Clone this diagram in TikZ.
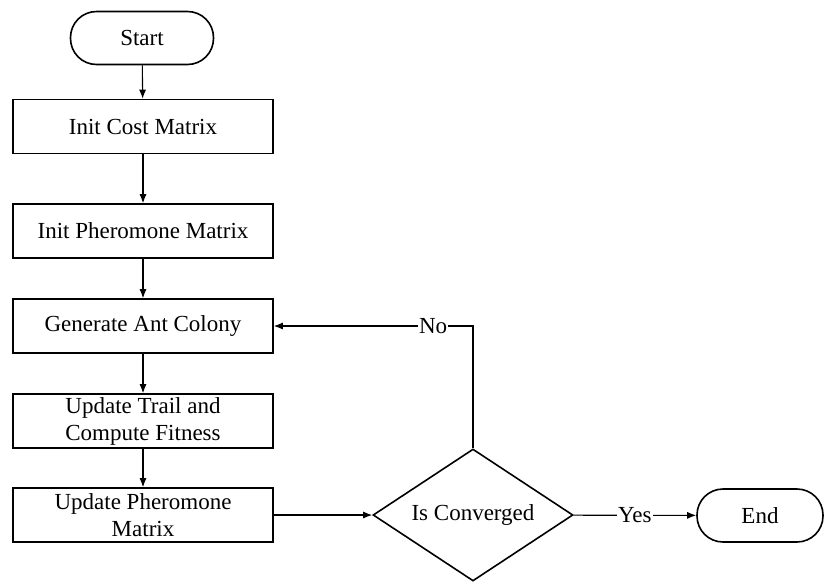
\documentclass[tikz,border=0pt]{standalone}
\usepackage{fontspec}
\setmainfont{Liberation Serif}
\usetikzlibrary{shapes.geometric,arrows.meta}
\begin{document}
\begin{tikzpicture}[x=1pt,y=-1pt,
  font=\fontsize{23}{27}\selectfont,
  box/.style={draw,line width=1.6pt,minimum width=260pt,minimum height=54pt,inner sep=0pt,align=center},
  term/.style={draw,line width=1.6pt,rounded corners=26pt,minimum height=53pt,inner sep=0pt},
  dec/.style={draw,line width=1.6pt,diamond,aspect=1.5,minimum width=200pt,minimum height=132pt,inner sep=0pt},
  conn/.style={line width=1.1pt,-{Latex[length=9pt,width=7pt]}},
  lbl/.style={fill=white,inner sep=1pt}]
\useasboundingbox (0,0) rectangle (828,582);
\node[term,minimum width=143pt] (start) at (142,38) {Start};
\node[box] (cost) at (143,126.5) {Init Cost Matrix};
\node[box] (pher) at (143,231) {Init Pheromone Matrix};
\node[box] (gen) at (143,326) {Generate Ant Colony};
\node[box] (trail) at (143,421) {Update Trail and\\Compute Fitness};
\node[box] (upd) at (143,515) {Update Pheromone\\Matrix};
\node[dec] (conv) at (473,515) {Is Converged};
\node[term,minimum width=126pt] (end) at (760,515.5) {End};
\draw[conn] (start) -- (cost);
\draw[conn] (cost) -- (pher);
\draw[conn] (pher) -- (gen);
\draw[conn] (gen) -- (trail);
\draw[conn] (trail) -- (upd);
\draw[conn] (upd) -- (conv);
\draw[conn] (conv) -- node[lbl] {Yes} (end);
\draw[conn] (conv.north) |- node[lbl,pos=0.6] {No} (gen.east);
\end{tikzpicture}
\end{document}
